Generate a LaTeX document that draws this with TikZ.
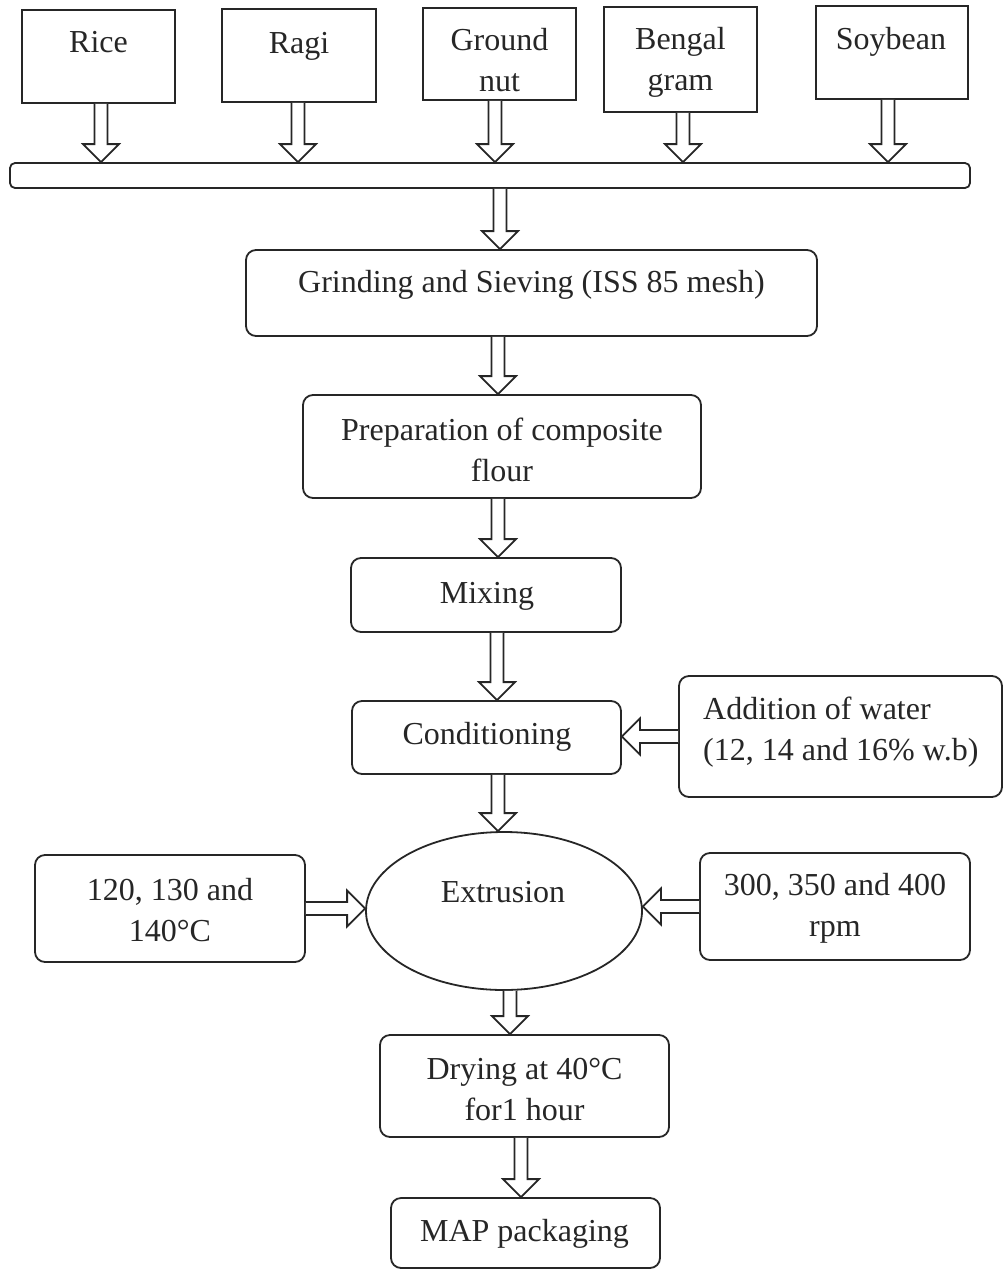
\documentclass[tikz,border=0pt]{standalone}
\usepackage{fontspec}
\setmainfont{Liberation Serif}
\usetikzlibrary{calc,shapes.geometric}
\tikzset{
  ink/.style={draw=black!85, line width=1.8pt},
  sqbox/.style={ink, rectangle, inner sep=0pt},
  rbox/.style={ink, rectangle, rounded corners=10pt, inner sep=0pt},
  lbl/.style={inner sep=0pt, align=center, font=\fontsize{32}{41}\selectfont, text=black!85},
  hollowline/.style={ink, line join=miter, fill=white},
}
\newcommand\harrow[2]{%
  \path #1 coordinate (hA) #2 coordinate (hB);
  \path ($(hB)!18pt!(hA)$) coordinate (hH);
  \draw[hollowline] ($(hA)!6.5pt!90:(hB)$) -- ($(hH)!6.5pt!-90:(hA)$) -- ($(hH)!18pt!-90:(hA)$) -- (hB) -- ($(hH)!18pt!90:(hA)$) -- ($(hH)!6.5pt!90:(hA)$) -- ($(hA)!6.5pt!-90:(hB)$);
}
\begin{document}
\begin{tikzpicture}[x=1pt,y=-1pt]
\useasboundingbox (0,0) rectangle (1004,1270);
% top boxes
\node[sqbox, minimum width=153pt, minimum height=93pt] (rice) at (98.5,56.5) {};
\node[sqbox, minimum width=154pt, minimum height=93pt] (ragi) at (299,55.5) {};
\node[sqbox, minimum width=153pt, minimum height=92pt] (gnut) at (499.5,54) {};
\node[sqbox, minimum width=153pt, minimum height=105pt] (beng) at (680.5,59.5) {};
\node[sqbox, minimum width=152pt, minimum height=93pt] (soy) at (892,52.5) {};
\node[lbl] (riceT) at (98.5,42) {Rice};
\node[lbl] (ragiT) at (299,46) {Ragi};
\node[lbl] (gnutT) at (499.5,60) {Ground\\nut};
\node[lbl] (bengT) at (680.5,62.5) {Bengal\\gram};
\node[lbl] (soyT) at (891,41.5) {Soybean};
% bar
\node[ink, rectangle, rounded corners=5pt, inner sep=0pt, minimum width=960pt, minimum height=25pt] (bar) at (490,175.5) {};
% process
\node[rbox, minimum width=571pt, minimum height=86pt] (grind) at (531.5,293) {};
\node[lbl] (grindT) at (531.5,285) {Grinding and Sieving (ISS 85 mesh)};
\node[rbox, minimum width=398pt, minimum height=103pt] (prep) at (502,446.5) {};
\node[lbl] (prepT) at (502,450) {Preparation of composite\\flour};
\node[rbox, minimum width=270pt, minimum height=74pt] (mix) at (486,595) {};
\node[lbl] (mixT) at (487,596) {Mixing};
\node[rbox, minimum width=269pt, minimum height=73pt] (cond) at (486.5,737.5) {};
\node[lbl] (condT) at (487,737) {Conditioning};
\node[rbox, minimum width=323pt, minimum height=121pt] (addw) at (840.5,736.5) {};
\node[lbl, align=left, anchor=west] (addwT) at (703,732) {Addition of water\\(12, 14 and 16\% w.b)};
\node[ink, ellipse, inner sep=0pt, minimum width=276pt, minimum height=158pt] (ext) at (504,911) {};
\node[lbl] (extT) at (503,892) {Extrusion};
\node[rbox, minimum width=270pt, minimum height=107pt] (temp) at (170,908.5) {};
\node[lbl] (tempT) at (170,910) {120, 130 and\\140°C};
\node[rbox, minimum width=270pt, minimum height=107pt] (rpm) at (835,906.5) {};
\node[lbl] (rpmT) at (835,908) {300, 350 and 400\\rpm};
\node[rbox, minimum width=289pt, minimum height=102pt] (dry) at (524.5,1086) {};
\node[lbl] (dryT) at (524.5,1089) {Drying at 40°C\\for1 hour};
\node[rbox, minimum width=269pt, minimum height=70pt] (map) at (525.5,1233) {};
\node[lbl] (mapT) at (524.5,1234) {MAP packaging};
% arrows
\harrow{(101,0 |- rice.south)}{(101,0 |- bar.north)}
\harrow{(298,0 |- ragi.south)}{(298,0 |- bar.north)}
\harrow{(495,0 |- gnut.south)}{(495,0 |- bar.north)}
\harrow{(683,0 |- beng.south)}{(683,0 |- bar.north)}
\harrow{(888,0 |- soy.south)}{(888,0 |- bar.north)}
\harrow{(500,0 |- bar.south)}{(500,0 |- grind.north)}
\harrow{(498,0 |- grind.south)}{(498,0 |- prep.north)}
\harrow{(498,0 |- prep.south)}{(498,0 |- mix.north)}
\harrow{(497,0 |- mix.south)}{(497,0 |- cond.north)}
\harrow{(addw.west)}{(addw.west -| cond.east)}
\harrow{(498,0 |- cond.south)}{(498,0 |- ext.north)}
\harrow{(temp.east)}{(temp.east -| ext.west)}
\harrow{(rpm.west)}{(rpm.west -| ext.east)}
\harrow{(510,0 |- ext.south)}{(510,0 |- dry.north)}
\harrow{(521,0 |- dry.south)}{(521,0 |- map.north)}
\end{tikzpicture}
\end{document}
